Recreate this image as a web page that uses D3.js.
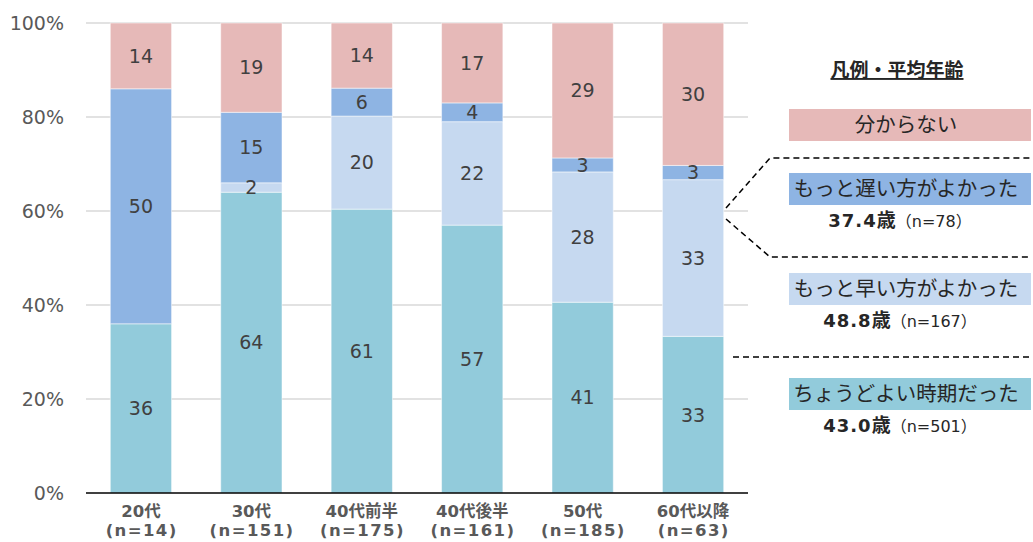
<!DOCTYPE html>
<html><head><meta charset="utf-8">
<script src="https://cdn.jsdelivr.net/npm/d3@7"></script>
<style>body{margin:0;background:#fff;}svg{display:block;font-family:"DejaVu Sans","Noto Sans CJK JP",sans-serif;}
.jp{font-family:"Noto Sans CJK JP",sans-serif;}</style>
</head><body><svg id="c" width="1033" height="542"></svg>
<script>
const categories = ["20代","30代","40代前半","40代後半","50代","60代以降"];
const sampleSizes = ["(n=14)","(n=151)","(n=175)","(n=161)","(n=185)","(n=63)"];
const seriesNames = ["ちょうどよい時期だった","もっと早い方がよかった","もっと遅い方がよかった","分からない"];
const justRight = [36,64,61,57,41,33];
const earlier   = [0,2,20,22,28,33];
const later     = [50,15,6,4,3,3];
const unknown   = [14,19,14,17,29,30];
const yTicks = [0,20,40,60,80,100];
const legendAges = ["43.0","48.8","37.4"];
const legendNs = ["（n=501）","（n=167）","（n=78）"];
const colors = ["#92CBDB","#C6D9F0","#8EB4E3","#E6B9B8"];

const svg = d3.select("#c");
const x = d3.scaleBand().domain(categories).range([86,748]).paddingInner(0.445).paddingOuter(0.22);
const y = d3.scaleLinear().domain([0,100]).range([493,23]);

svg.append("g").selectAll("line").data(yTicks.filter(d=>d>0)).join("line")
  .attr("x1",86).attr("x2",748).attr("y1",d=>y(d)).attr("y2",d=>y(d))
  .attr("stroke","#d9d9d9").attr("stroke-width",1.3);
svg.append("g").selectAll("text").data(yTicks).join("text")
  .attr("x",64).attr("y",d=>y(d)).attr("dy","0.36em").attr("text-anchor","end")
  .attr("font-size",19).attr("fill","#595959").text(d=>d+"%");

const series = [justRight,earlier,later,unknown];
const rows = categories.map((c,i)=>{
  const o={cat:c}; const tot=series.reduce((s,a)=>s+a[i],0);
  series.forEach((a,k)=>{o["s"+k]=a[i]*100/tot; o["v"+k]=a[i];}); return o;});
const stack = d3.stack().keys(["s0","s1","s2","s3"])(rows);

const g = svg.append("g");
stack.forEach((layer,k)=>{
  g.append("g").selectAll("rect").data(layer).join("rect")
    .attr("x",d=>x(d.data.cat)).attr("width",x.bandwidth())
    .attr("y",d=>y(d[1])).attr("height",d=>y(d[0])-y(d[1]))
    .attr("fill",colors[k]).attr("stroke","#ffffff").attr("stroke-opacity",0.5).attr("stroke-width",1);
});
stack.forEach((layer,k)=>{
  g.append("g").selectAll("text").data(layer.filter(d=>d.data["v"+k]>0)).join("text")
    .attr("x",d=>x(d.data.cat)+x.bandwidth()/2).attr("y",d=>(y(d[0])+y(d[1]))/2)
    .attr("dy","0.36em").attr("text-anchor","middle").attr("font-size",19).attr("fill","#404040")
    .text(d=>d.data["v"+k]);
});

svg.append("line").attr("x1",86).attr("x2",748).attr("y1",y(0)).attr("y2",y(0)).attr("stroke","#000").attr("stroke-width",1.5);

const xg = svg.append("g");
xg.selectAll("text.c").data(categories).join("text").attr("class","c")
  .attr("x",d=>x(d)+x.bandwidth()/2).attr("y",517).attr("text-anchor","middle")
  .attr("font-size",16.5).attr("font-weight","bold").attr("fill","#595959").text(d=>d);
xg.selectAll("text.n").data(sampleSizes).join("text").attr("class","n")
  .attr("x",(d,i)=>x(categories[i])+x.bandwidth()/2+0.7).attr("y",536).attr("text-anchor","middle")
  .attr("font-size",16.5).attr("font-weight","bold").attr("letter-spacing",1.4).attr("fill","#595959").text(d=>d);

const L = svg.append("g");
L.append("text").attr("class","jp").attr("x",897).attr("y",77).attr("text-anchor","middle").attr("font-size",19)
  .attr("font-weight","bold").attr("fill","#262626").attr("text-decoration","underline").text("凡例・平均年齢");
const lx=789, lw=242, lh=32;
const boxes = [
  {k:3, y:109},
  {k:2, y:173, age:2},
  {k:1, y:273, age:1},
  {k:0, y:378, age:0}
];
boxes.forEach(b=>{
  L.append("rect").attr("x",lx).attr("y",b.y).attr("width",lw).attr("height",lh).attr("fill",colors[b.k]);
  L.append("text").attr("class","jp").attr("x",lx+lw/2-4).attr("y",b.y+lh/2).attr("dy","0.36em").attr("text-anchor","middle")
    .attr("font-size",20.5).attr("fill","#262626").text(seriesNames[b.k]);
  if(b.age!==undefined){
    const t=L.append("text").attr("x",900).attr("y",b.y+lh+22).attr("text-anchor","middle").attr("fill","#262626");
    t.append("tspan").attr("font-size",18).attr("font-weight","bold").attr("letter-spacing",1).text(legendAges[b.age]);
    t.append("tspan").attr("class","jp").attr("font-size",19).attr("font-weight","bold").text("歳");
    t.append("tspan").attr("font-size",16).text(legendNs[b.age]);
  }
});
function path(pts){L.append("path").attr("d",d3.line()(pts)).attr("stroke","#000").attr("stroke-width",1.5)
  .attr("stroke-dasharray","6,4").attr("fill","none");}
path([[726,208],[770,158],[1031,158]]);
path([[726,219],[770,257],[1031,257]]);
path([[733,357],[1031,357]]);
</script></body></html>
